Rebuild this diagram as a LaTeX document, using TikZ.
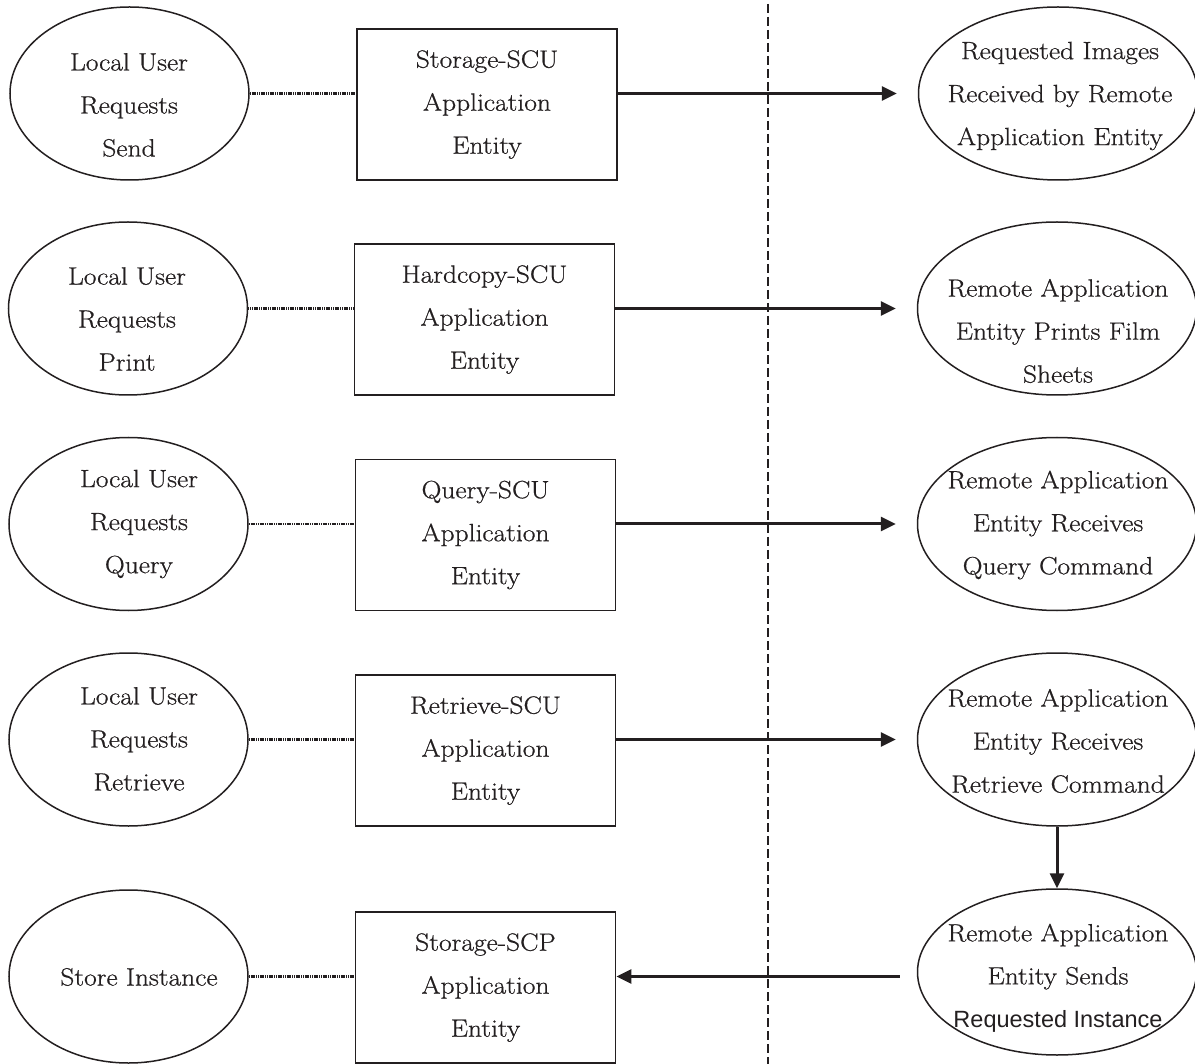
\documentclass[tikz,border=0pt]{standalone}
\usepackage{fontspec}
\usepackage{xcolor}
\usepackage{tikz}
\usetikzlibrary{calc,shapes.geometric,arrows.meta}
\newfontfamily\labfont{Latin Modern Roman}[FakeBold=0.7,FakeStretch=1.1]
\newfontfamily\arialfont{Liberation Sans}
\definecolor{ink}{HTML}{231F20}
\tikzset{
  user/.style={draw=ink, ellipse, line width=1.5pt, minimum width=239pt, minimum height=173pt, inner sep=0pt},
  remote/.style={draw=ink, ellipse, line width=1.5pt, minimum width=279pt, minimum height=173pt, inner sep=0pt},
  ae/.style={draw=ink, rectangle, line width=1.9pt, minimum width=260pt, minimum height=151pt, inner sep=0pt, lab},
  lab/.style={text=ink, align=center, font=\labfont\fontsize{25}{43}\selectfont},
  link/.style={draw=ink, line width=2.2pt, dash pattern=on 1.2pt off 0.6pt},
  flow/.style={draw=ink, line width=3pt, -{Triangle[length=15pt,width=14pt]}},
  border/.style={draw=ink, line width=2.6pt, dash pattern=on 9pt off 4pt},
}

\begin{document}
\begin{tikzpicture}[x=1pt,y=-1pt]
  \useasboundingbox (0,0) rectangle (1195,1064);

  % network boundary
  \coordinate (top) at (768,4);
  \coordinate (bot) at (768,1064);
  \draw[border] (top)--(bot);

  % local side
  \node[user] (u1) at (129.5,93.5) {};
  \node[user] (u2) at (128,308.5) {};
  \node[user] (u3) at (128.5,524) {};
  \node[user] (u4) at (128.5,739.5) {};
  \node[user] (u5) at (128.5,976.5) {};
  \node[lab] (u1t) at (129,105) {Local User\\Requests\\Send};
  \node[lab] (u2t) at (127,319) {Local User\\Requests\\Print};
  \node[lab] (u3t) at (139,524) {Local User\\Requests\\Query};
  \node[lab] (u4t) at (139,739) {Local User\\Requests\\Retrieve};
  \node[lab] (u5t) at (139,977) {Store Instance};

  % application entities
  \node[ae] (scu1) at (487,104.5) {Storage-SCU\\Application\\Entity};
  \node[ae] (scu2) at (484.5,319.5) {Hardcopy-SCU\\Application\\Entity};
  \node[ae] (scu3) at (485.5,535) {Query-SCU\\Application\\Entity};
  \node[ae] (scu4) at (485.5,750.5) {Retrieve-SCU\\Application\\Entity};
  \node[ae] (scp) at (485.5,987.5) {Storage-SCP\\Application\\Entity};

  % remote side
  \node[remote] (r1) at (1058,93.5) {};
  \node[remote] (r2) at (1057,308.5) {};
  \node[remote] (r3) at (1057,524) {};
  \node[remote] (r4) at (1057,739.5) {};
  \node[remote,minimum height=166pt] (r5) at (1057,972) {};
  \node[lab] (r1t) at (1060,96) {Requested Images\\Received by Remote\\Application Entity};
  \node[lab] (r2t) at (1058,331) {Remote Application\\Entity Prints Film\\Sheets};
  \node[lab] (r3t) at (1058,525) {Remote Application\\Entity Receives\\Query Command};
  \node[lab] (r4t) at (1058,741) {Remote Application\\Entity Receives\\Retrieve Command};
  \node[lab] (r5t) at (1058,978) {Remote Application\\Entity Sends\\{\arialfont\fontsize{23.5}{43}\selectfont Requested Instance}};

  % local links
  \draw[link] (u1.east) -- (u1.east -| scu1.west);
  \draw[link] (u2.east) -- (u2.east -| scu2.west);
  \draw[link] (u3.east) -- (u3.east -| scu3.west);
  \draw[link] (u4.east) -- (u4.east -| scu4.west);
  \draw[link] (u5.east) -- (u5.east -| scp.west);

  % associations
  \draw[flow,shorten >=21pt] (u1.east -| scu1.east) -- (u1.east -| r1.west);
  \draw[flow,shorten >=21pt] (u2.east -| scu2.east) -- (u2.east -| r2.west);
  \draw[flow,shorten >=21pt] (u3.east -| scu3.east) -- (u3.east -| r3.west);
  \draw[flow,shorten >=21pt] (u4.east -| scu4.east) -- (u4.east -| r4.west);
  \draw[flow] (r4.south) -- (r5.north);
  \draw[flow,shorten <=17pt] (u5.east -| r5.west) -- (u5.east -| scp.east);
\end{tikzpicture}
\end{document}
